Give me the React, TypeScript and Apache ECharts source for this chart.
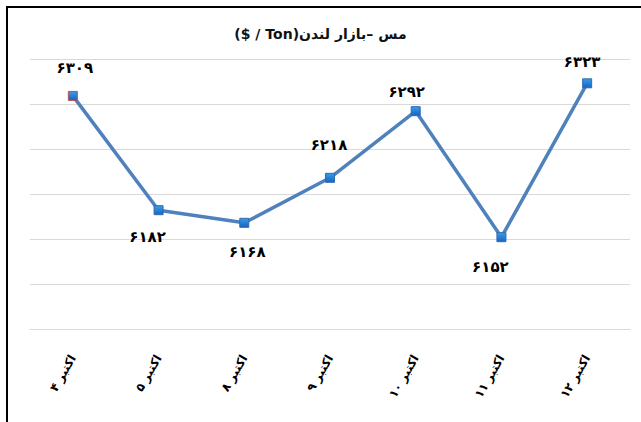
import React, { useEffect, useRef } from "react";
import * as echarts from "echarts";

const titleText = "\u202Bمس –بازار لندن(Ton / $)\u202C";
const categories = ["اکتبر ۴", "اکتبر ۵", "اکتبر ۸", "اکتبر ۹", "اکتبر ۱۰", "اکتبر ۱۱", "اکتبر ۱۲"];
const prices = [6309, 6182, 6168, 6218, 6292, 6152, 6323];
const yMin = 6050;
const yMax = 6350;
const yInterval = 50;

// label layout: [position, distance, dx]
const labelLayout: [string, number, number][] = [
  ["top", 15, 2],
  ["bottom", 14, -11],
  ["bottom", 17, 3],
  ["top", 20, -1],
  ["top", 7, -9],
  ["bottom", 17, -11],
  ["top", 9, -5],
];

const persian = (s: string) => s.replace(/[0-9]/g, (d) => "۰۱۲۳۴۵۶۷۸۹"[Number(d)]);

const FONT = "'DejaVu Sans', Tahoma, sans-serif";

export default function App() {
  const ref = useRef<HTMLDivElement>(null);
  useEffect(() => {
    document.body.style.margin = "0";
    const chart = echarts.init(ref.current!, undefined, { renderer: "svg" });
    chart.setOption({
      animation: false,
      backgroundColor: "#ffffff",
      title: {
        text: titleText,
        left: "center",
        top: 22,
        textStyle: { fontFamily: FONT, fontSize: 14, fontWeight: "bold", color: "#111" },
      },
      grid: { left: 30, right: 11, top: 59, bottom: 93, containLabel: false },
      xAxis: {
        type: "category",
        data: categories,
        boundaryGap: true,
        axisLine: { show: true, lineStyle: { color: "#d9d9d9", width: 1 } },
        axisTick: { show: false },
        axisLabel: {
          rotate: 60,
          margin: 27,
          fontFamily: FONT,
          fontSize: 12,
          fontWeight: "bold",
          color: "#000",
        },
      },
      yAxis: {
        type: "value",
        min: yMin,
        max: yMax,
        interval: yInterval,
        axisLabel: { show: false },
        axisLine: { show: false },
        axisTick: { show: false },
        splitLine: { show: true, lineStyle: { color: "#d9d9d9", width: 1 } },
      },
      series: [
        {
          type: "line",
          data: prices.map((v, i) => ({
            value: v,
            itemStyle: i === 0 ? { borderColor: "#c0504d" } : undefined,
            label: {
              position: labelLayout[i][0],
              distance: labelLayout[i][1],
              offset: [labelLayout[i][2], 0],
            },
          })),
          symbol: "rect",
          symbolSize: 9,
          lineStyle: { color: "#4f81bd", width: 3.5 },
          itemStyle: {
            color: new echarts.graphic.LinearGradient(0, 0, 0, 1, [
              { offset: 0, color: "#3d9be9" },
              { offset: 1, color: "#1565c0" },
            ]),
            borderColor: "#2f6bb0",
            borderWidth: 1,
          },
          label: {
            show: true,
            fontFamily: FONT,
            fontSize: 15,
            fontWeight: "bold",
            color: "#000",
            formatter: (p: any) => persian(String(p.value)),
          },
        },
      ],
      graphic: [
        { type: "line", shape: { x1: 7, y1: 6, x2: 7, y2: 422 }, style: { stroke: "#000", lineWidth: 2 } },
        { type: "line", shape: { x1: 6, y1: 7, x2: 641, y2: 7 }, style: { stroke: "#000", lineWidth: 2 } },
      ],
    });
    return () => chart.dispose();
  }, []);
  return <div ref={ref} style={{ width: 641, height: 422 }} />;
}
